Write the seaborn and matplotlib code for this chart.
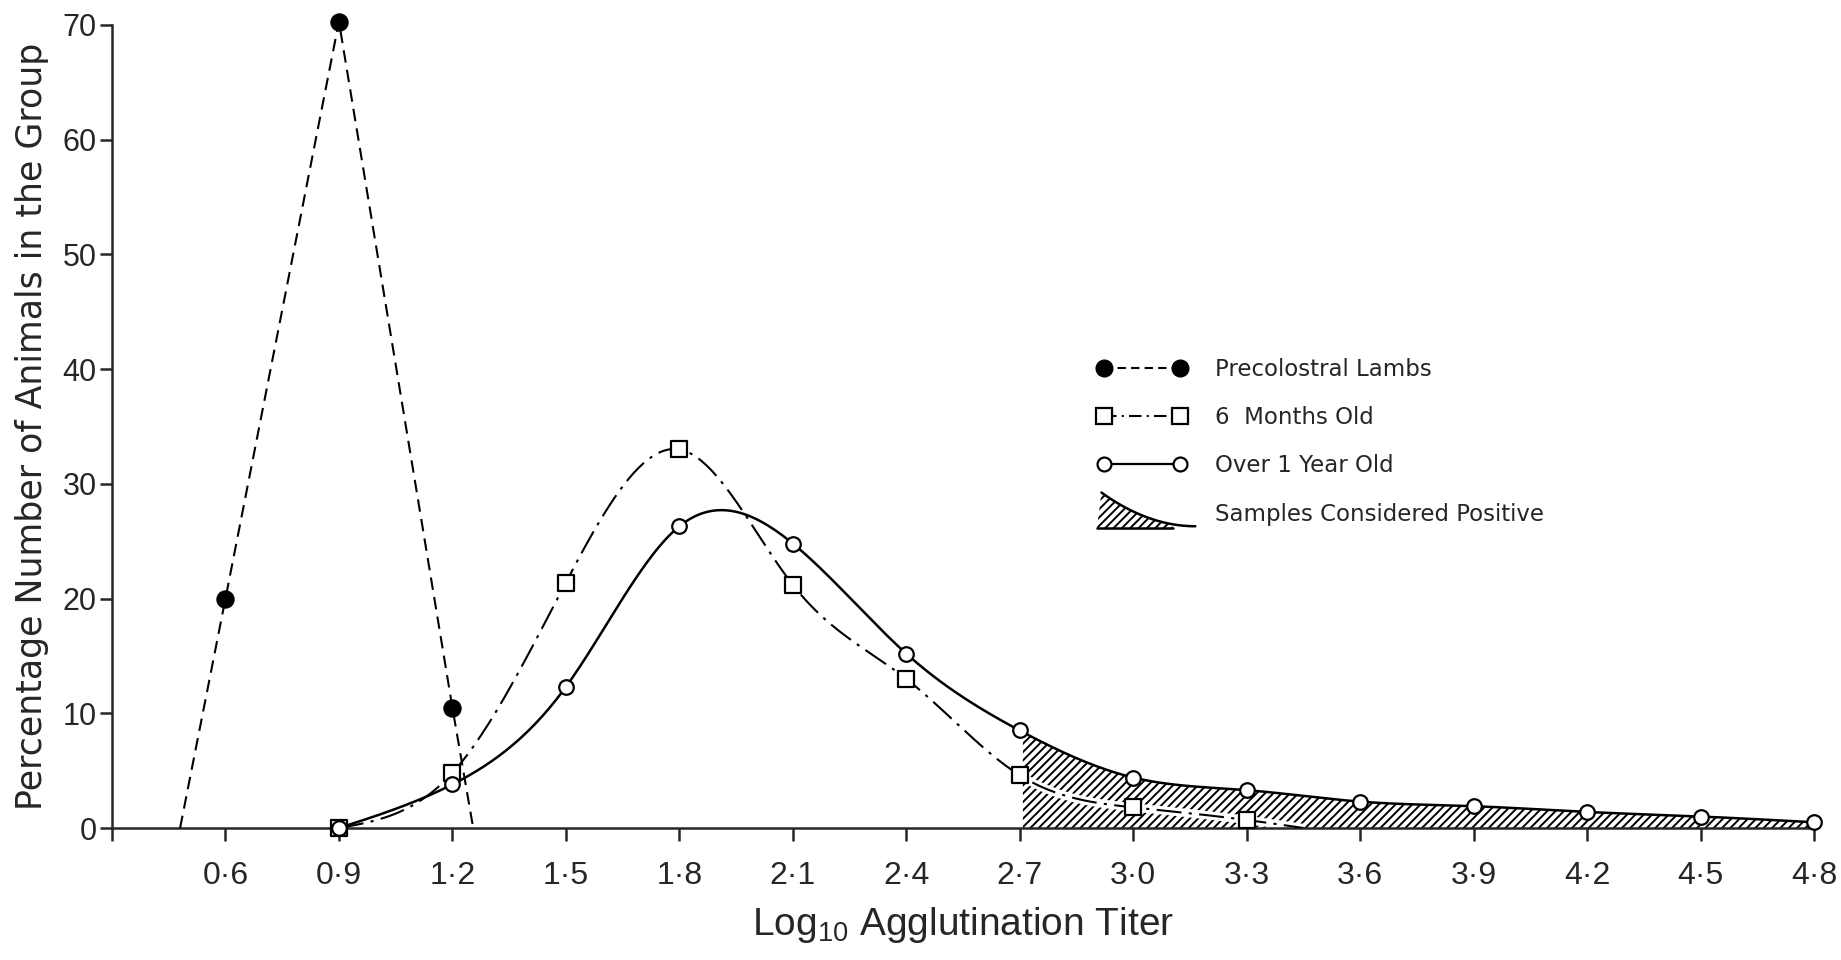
import numpy as np
import pandas as pd
import matplotlib
matplotlib.use('Agg')
import matplotlib.pyplot as plt
import seaborn as sns
from matplotlib.lines import Line2D
from matplotlib.patches import Patch, Polygon
from matplotlib.legend_handler import HandlerBase

# Dados (log10 do título de aglutinação vs % de animais)
tick_vals = [0.3, 0.6, 0.9, 1.2, 1.5, 1.8, 2.1, 2.4, 2.7, 3.0, 3.3, 3.6, 3.9, 4.2, 4.5, 4.8]
tick_text = ['', '0·6', '0·9', '1·2', '1·5', '1·8', '2·1', '2·4', '2·7', '3·0',
             '3·3', '3·6', '3·9', '4·2', '4·5', '4·8']
y_ticks = [0, 10, 20, 30, 40, 50, 60, 70]

# Cordeiros pré-colostrais (pontos + onde a linha toca o zero)
pre_x = [0.6, 0.9, 1.2]
pre_y = [20.0, 70.3, 10.5]
pre_start = (0.48, 0.0)
pre_end = (1.255, 0.0)

# 6 meses
six_x = [0.9, 1.2, 1.5, 1.8, 2.1, 2.4, 2.7, 3.0, 3.3]
six_y = [0.0, 4.8, 21.4, 33.0, 21.2, 13.0, 4.6, 1.8, 0.7]
six_end = (3.45, 0.0)

# Mais de 1 ano
year_x = [0.9, 1.2, 1.5, 1.8, 2.1, 2.4, 2.7, 3.0, 3.3, 3.6, 3.9, 4.2, 4.5, 4.8]
year_y = [0.0, 3.8, 12.3, 26.3, 24.8, 15.2, 8.5, 4.4, 3.3, 2.3, 1.9, 1.4, 1.0, 0.5]

positive_from = 2.7  # amostras consideradas positivas


def spline(xs, ys, n=400):
    # spline cúbica natural, só para desenhar a curva suave
    xs = np.asarray(xs, float)
    ys = np.asarray(ys, float)
    k = len(xs)
    h = np.diff(xs)
    A = np.zeros((k, k))
    r = np.zeros(k)
    A[0, 0] = A[-1, -1] = 1
    for i in range(1, k - 1):
        A[i, i - 1] = h[i - 1]
        A[i, i] = 2 * (h[i - 1] + h[i])
        A[i, i + 1] = h[i]
        r[i] = 6 * ((ys[i + 1] - ys[i]) / h[i] - (ys[i] - ys[i - 1]) / h[i - 1])
    M = np.linalg.solve(A, r)
    xx = np.linspace(xs[0], xs[-1], n)
    idx = np.clip(np.searchsorted(xs, xx) - 1, 0, k - 2)
    x0, x1 = xs[idx], xs[idx + 1]
    hh = x1 - x0
    a = (x1 - xx) / hh
    b = (xx - x0) / hh
    yy = (a * ys[idx] + b * ys[idx + 1]
          + ((a ** 3 - a) * M[idx] + (b ** 3 - b) * M[idx + 1]) * hh ** 2 / 6)
    return xx, np.clip(yy, 0, None)


class HatchWedge(HandlerBase):
    def create_artists(self, legend, orig_handle, xdescent, ydescent, width, height, fontsize, trans):
        x0 = -xdescent
        y0 = -ydescent - 0.45 * height
        t = np.linspace(0, 1, 40)
        cx = x0 + 0.05 * width + t * 1.05 * width
        cy = y0 + 2.1 * height * (1 - t) ** 2 + 0.1 * height
        m = cx <= x0 + 0.85 * width
        verts = list(zip(cx[m], cy[m])) + [(x0 + 0.85 * width, y0), (x0, y0)]
        poly = Polygon(verts, closed=True, facecolor='none', edgecolor='black',
                       linewidth=0, hatch='////', transform=trans)
        top = Line2D(cx, cy, color='black', lw=1.8, transform=trans)
        bottom = Line2D([x0, x0 + 0.85 * width], [y0, y0], color='black', lw=1.8, transform=trans)
        return [poly, top, bottom]


sns.set_style('ticks')
plt.rcParams['font.family'] = ['DejaVu Sans']
plt.rcParams['hatch.linewidth'] = 1.4
plt.rcParams['mathtext.fontset'] = 'custom'
plt.rcParams['mathtext.rm'] = 'Liberation Sans'
plt.rcParams['mathtext.it'] = 'Liberation Sans'
lib = ['Liberation Sans', 'DejaVu Sans']

fig = plt.figure(figsize=(18.41, 9.6), dpi=100)
ax = fig.add_axes([112 / 1841, 1 - 828 / 960, (1814 - 112) / 1841, (828 - 25) / 960])

# curvas suaves
six_xx, six_yy = spline(six_x + [six_end[0]], six_y + [six_end[1]])
year_xx, year_yy = spline(year_x, year_y)

# área hachurada (amostras positivas)
m = year_xx >= positive_from
ax.fill_between(year_xx[m], 0, year_yy[m], facecolor='none', edgecolor='black',
                hatch='////', linewidth=0, zorder=1)
m6 = six_xx >= positive_from
ax.plot(six_xx[m6], six_yy[m6], color='white', lw=6, zorder=2, solid_capstyle='butt')

# linhas
pre_line_x = [pre_start[0]] + pre_x + [pre_end[0]]
pre_line_y = [pre_start[1]] + pre_y + [pre_end[1]]
sns.lineplot(x=pre_line_x, y=pre_line_y, ax=ax, color='black', lw=1.5,
             linestyle=(0, (6, 3.5)), sort=False, estimator=None, zorder=3)
sns.lineplot(x=six_xx, y=six_yy, ax=ax, color='black', lw=1.5,
             linestyle=(0, (12, 3.5, 1.5, 3.5)), sort=False, estimator=None, zorder=3)
sns.lineplot(x=year_xx, y=year_yy, ax=ax, color='black', lw=1.8,
             sort=False, estimator=None, zorder=3)

# marcadores
sns.scatterplot(x=pre_x, y=pre_y, ax=ax, color='black', edgecolor='black', marker='o',
                s=150, linewidth=1, zorder=5, clip_on=False)
sns.scatterplot(x=six_x, y=six_y, ax=ax, color='white', edgecolor='black', marker='s',
                s=120, linewidth=1.6, zorder=5, clip_on=False)
sns.scatterplot(x=year_x, y=year_y, ax=ax, color='white', edgecolor='black', marker='o',
                s=110, linewidth=1.6, zorder=6, clip_on=False)

# eixos
ax.set_xlim(0.3, 4.8)
ax.set_ylim(0, 70)
ax.set_xticks(tick_vals)
ax.set_xticklabels(tick_text, family=lib, fontsize=23)
ax.set_yticks(y_ticks)
ax.set_yticklabels([str(v) for v in y_ticks], family=lib, fontsize=22)
ax.tick_params(axis='x', direction='out', length=9, width=1.8, pad=15)
ax.tick_params(axis='y', direction='out', length=9, width=1.8, pad=2)
sns.despine(ax=ax)
for s in ['left', 'bottom']:
    ax.spines[s].set_linewidth(1.8)
ax.grid(False)

ax.set_xlabel('Log$_{10}$ Agglutination Titer', family=lib, fontsize=28, labelpad=10)
ax.set_ylabel('Percentage Number of Animals in the Group', fontsize=25, labelpad=10)

# legenda
handles = [
    Line2D([], [], color='black', lw=1.5, linestyle=(0, (4, 2.5)), marker='o',
           markersize=12, markerfacecolor='black', markeredgecolor='black'),
    Line2D([], [], color='black', lw=1.5, linestyle=(0, (6, 2.5, 1, 2.5)), marker='s',
           markersize=11, markerfacecolor='white', markeredgecolor='black', markeredgewidth=1.6),
    Line2D([], [], color='black', lw=1.6, marker='o', markersize=10,
           markerfacecolor='white', markeredgecolor='black', markeredgewidth=1.6),
]
positive_patch = Patch(facecolor='none', edgecolor='black', hatch='////')
handles.append(positive_patch)
labels = ['Precolostral Lambs', '6  Months Old', 'Over 1 Year Old', 'Samples Considered Positive']
leg = ax.legend(handles, labels, loc='upper left', bbox_to_anchor=(1097 / 1841, 1 - 358 / 960),
                bbox_transform=fig.transFigure, frameon=False, fontsize=16.5, numpoints=2,
                handlelength=3.9, handletextpad=1.25, labelspacing=1.1, borderpad=0,
                borderaxespad=0, handler_map={positive_patch: HatchWedge()})

fig.savefig('out.png', dpi=100)
